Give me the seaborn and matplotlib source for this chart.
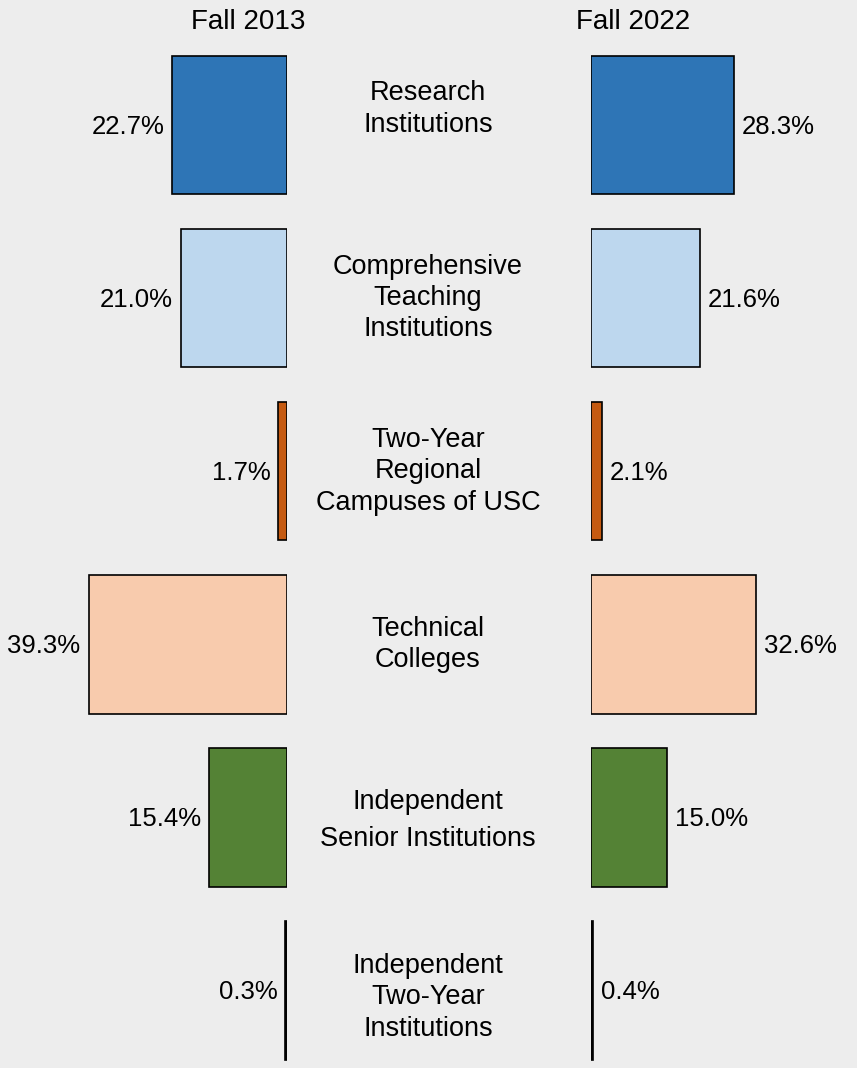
import numpy as np
import pandas as pd
import seaborn as sns
import matplotlib.pyplot as plt
from matplotlib.transforms import blended_transform_factory

sns.set_style("white")
plt.rcParams['font.family'] = ['Liberation Sans', 'DejaVu Sans']
plt.rcParams['text.color'] = 'black'

# share of enrollment by sector
categories = ["Research Institutions", "Comprehensive Teaching Institutions",
              "Two-Year Regional Campuses of USC", "Technical Colleges",
              "Independent Senior Institutions", "Independent Two-Year Institutions"]
labels = ["Research\nInstitutions", "Comprehensive\nTeaching\nInstitutions",
          "Two-Year\nRegional\nCampuses of USC", "Technical\nColleges",
          "Independent\nSenior Institutions", "Independent\nTwo-Year\nInstitutions"]
fall_2013 = [22.7, 21.0, 1.7, 39.3, 15.4, 0.3]
fall_2022 = [28.3, 21.6, 2.1, 32.6, 15.0, 0.4]
colors = ["#2E75B6", "#BDD7EE", "#C55A11", "#F8CBAD", "#548235", "#000000"]

df = pd.DataFrame({"sector": categories, "f2013": fall_2013, "f2022": fall_2022})
pal = dict(zip(categories, colors))

W, H = 857, 1068
bg = "#EDEDED"
px = 5.05  # pixels per percentage point
row = 173.1  # pixels per row

# layout tweaks for the centre labels (pixel shift, line spacing)
lab_shift = [-16, 0, 0, 0, 3, 7]
lab_spacing = [1.27, 1.27, 1.27, 1.27, 1.53, 1.27]

fig = plt.figure(figsize=(W / 100, H / 100), dpi=100, facecolor=bg)
ax_l = fig.add_axes([0, 0, 287 / W, 1])
ax_r = fig.add_axes([591 / W, 0, (W - 591) / W, 1])

for ax, col in [(ax_l, "f2013"), (ax_r, "f2022")]:
    sns.barplot(data=df, x=col, y="sector", hue="sector", palette=pal, orient="h",
                legend=False, width=0.8, saturation=1, edgecolor="black",
                linewidth=1.2, ax=ax)
    ax.set_ylim(5.448, -0.722)
    ax.set_axis_off()
    ax.patch.set_alpha(0)

ax_l.set_xlim(287 / px, 0)
ax_r.set_xlim(0, (W - 591) / px)

for i, v in enumerate(fall_2013):
    ax_l.text(v + 8 / px, i + 0.01, f"{v:.1f}%", ha="right", va="center", fontsize=18.5)
for i, v in enumerate(fall_2022):
    ax_r.text(v + 8 / px, i + 0.01, f"{v:.1f}%", ha="left", va="center", fontsize=18.5)

tr = blended_transform_factory(fig.transFigure, ax_l.transData)
for i, lab in enumerate(labels):
    fig.text(428 / W, i + lab_shift[i] / row, lab, transform=tr, ha="center", va="center",
             fontsize=19.5, linespacing=lab_spacing[i])

fig.text(248 / W, 1 - 22 / H, "Fall 2013", ha="center", va="center", fontsize=20)
fig.text(633 / W, 1 - 22 / H, "Fall 2022", ha="center", va="center", fontsize=20)

fig.savefig("out.png", dpi=100, facecolor=bg)
